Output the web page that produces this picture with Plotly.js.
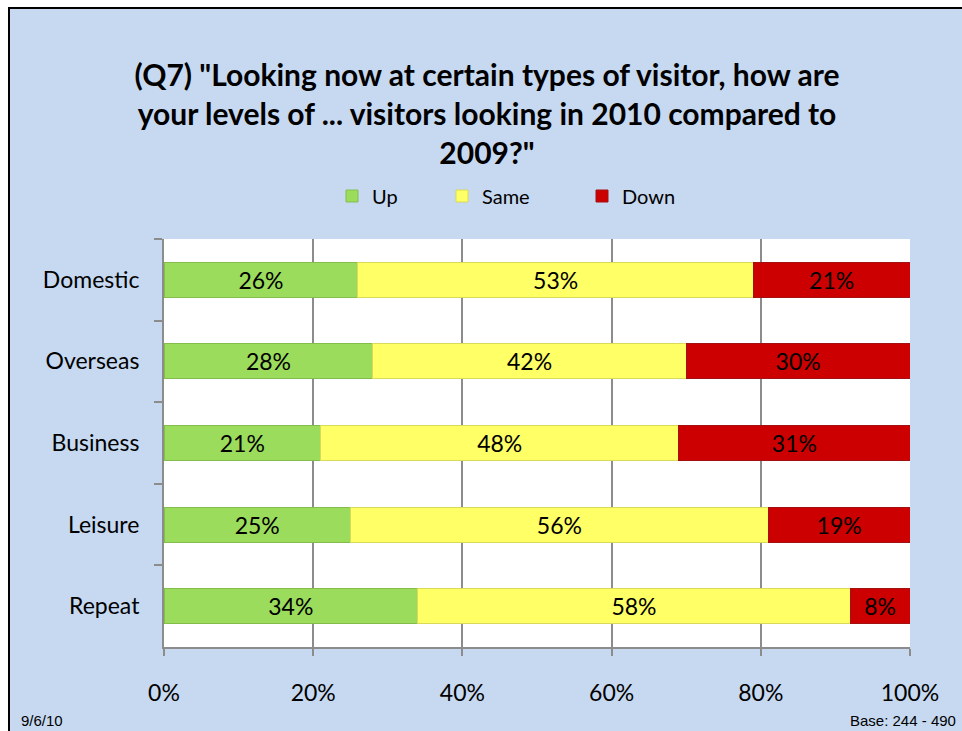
<!DOCTYPE html>
<html>
<head>
<meta charset="utf-8">
<script src="https://cdn.plot.ly/plotly-3.0.1.min.js"></script>
<style>
  html, body { margin: 0; padding: 0; background: #ffffff; }
  #wrap { position: absolute; left: 8px; top: 7px; width: 954px; height: 724px;
          border-left: 2px solid #000; border-top: 2px solid #000; background: #c6d9f1; }
  #chart { width: 954px; height: 724px; }
</style>
</head>
<body>
<div id="wrap"><div id="chart"></div></div>
<script>
const categories = ["Domestic", "Overseas", "Business", "Leisure", "Repeat"];
const upValues   = [26, 28, 21, 25, 34];
const sameValues = [53, 42, 48, 56, 58];
const downValues = [21, 30, 31, 19, 8];
const xTickValues = [0, 20, 40, 60, 80, 100];
const xTickLabels = ["0%", "20%", "40%", "60%", "80%", "100%"];
const titleText = '(Q7) "Looking now at certain types of visitor, how are<br>your levels of ... visitors looking in 2010 compared to<br>2009?"';

const FONT = "Lato, 'Noto Sans', sans-serif";

function barTrace(name, vals, fill, edge, legendId) {
  return {
    type: "bar", orientation: "h", name: name,
    y: categories, x: vals,
    width: 0.43,
    marker: { color: fill, line: { color: edge, width: 1 } },
    texttemplate: "%{x}%",
    textposition: "inside", insidetextanchor: "middle",
    constraintext: "none",
    textfont: { family: FONT, size: 23, color: "#000000" },
    hoverinfo: "skip",
    legend: legendId
  };
}

const data = [
  barTrace("Up", upValues, "#9bdc5c", "#84bd4c", "legend"),
  barTrace("Same", sameValues, "#ffff66", "#d9d95a", "legend2"),
  barTrace("Down", downValues, "#cc0000", "#a31212", "legend3")
];

const legendBase = {
  orientation: "h", bgcolor: "rgba(0,0,0,0)", borderwidth: 0,
  font: { family: FONT, size: 20, color: "#000" },
  xref: "container", yref: "container",
  xanchor: "left", yanchor: "middle",
  itemwidth: 30, tracegroupgap: 0
};

const legY = 1 - (196 - 9) / 724;
const layout = {
  width: 954, height: 724,
  paper_bgcolor: "#c6d9f1",
  plot_bgcolor: "#ffffff",
  margin: { l: 154, r: 54, t: 230, b: 86 },
  barmode: "stack",
  bargap: 0.57,
  title: {
    text: titleText,
    font: { family: FONT, size: 30, color: "#000", weight: "bold" },
    xref: "container", x: 0.5, xanchor: "center",
    yref: "container", y: 0.893, yanchor: "top"
  },
  showlegend: true,
  legend:  Object.assign({}, legendBase, { x: (332 - 10) / 954, y: legY }),
  legend2: Object.assign({}, legendBase, { x: (442 - 10) / 954, y: legY }),
  legend3: Object.assign({}, legendBase, { x: (582 - 10) / 954, y: legY }),
  xaxis: {
    range: [0, 100],
    tickvals: xTickValues, ticktext: xTickLabels,
    showgrid: true, gridcolor: "#8c8c8c", gridwidth: 2,
    showline: true, linecolor: "#8c8c8c", linewidth: 2,
    ticks: "outside", ticklen: 7, tickwidth: 2, tickcolor: "#8c8c8c",
    ticklabelstandoff: 17,
    tickfont: { family: FONT, size: 23, color: "#000" },
    zeroline: false, fixedrange: true
  },
  yaxis: {
    type: "category",
    categoryorder: "array", categoryarray: categories,
    autorange: "reversed",
    showgrid: false,
    showline: true, linecolor: "#8c8c8c", linewidth: 2,
    ticks: "outside", ticklen: 8, tickwidth: 2, tickcolor: "#8c8c8c",
    tickson: "boundaries",
    ticklabelstandoff: 18,
    tickfont: { family: FONT, size: 23, color: "#000" },
    fixedrange: true
  },
  annotations: []
};

const plotW = 954 - 154 - 54, plotH = 724 - 230 - 86;
const footY = -((720 - 9) - (724 - 86)) / plotH;
layout.annotations.push(
  { text: "9/6/10", xref: "paper", yref: "paper", showarrow: false,
    x: (19 - 10 - 154) / plotW, y: footY, xanchor: "left", yanchor: "middle",
    font: { family: "Liberation Sans, Arial, sans-serif", size: 15, color: "#000" } },
  { text: "Base: 244 - 490", xref: "paper", yref: "paper", showarrow: false,
    x: (958 - 10 - 154) / plotW, y: footY, xanchor: "right", yanchor: "middle",
    font: { family: "Liberation Sans, Arial, sans-serif", size: 15, color: "#000" } }
);

Plotly.newPlot("chart", data, layout, { displayModeBar: false, staticPlot: true });
</script>
</body>
</html>
